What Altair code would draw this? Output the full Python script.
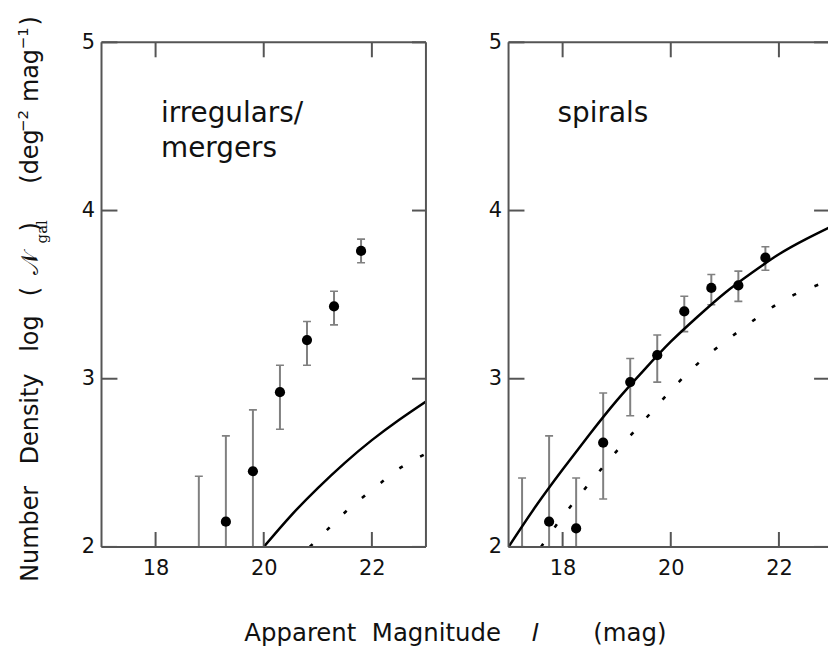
import altair as alt
import pandas as pd

# ---------------- values ----------------
# irregulars / mergers
irr_mag = [18.8, 19.3, 19.8, 20.3, 20.8, 21.3, 21.8]
irr_logn = [None, 2.15, 2.45, 2.92, 3.23, 3.43, 3.76]
irr_err_hi = [2.42, 2.66, 2.815, 3.08, 3.34, 3.52, 3.83]
irr_err_lo = [1.8, 1.8, 1.8, 2.70, 3.08, 3.32, 3.69]
irr_solid_mag = [20.0, 20.5, 21.0, 21.5, 22.0, 22.5, 23.0]
irr_solid_logn = [2.0, 2.185, 2.35, 2.50, 2.635, 2.755, 2.865]
irr_dot_mag = [20.85, 21.2, 21.5, 21.85, 22.2, 22.5, 23.0]
irr_dot_logn = [2.0, 2.11, 2.205, 2.30, 2.39, 2.465, 2.555]

# spirals
sp_mag = [17.25, 17.75, 18.25, 18.75, 19.25, 19.75, 20.25, 20.75, 21.25, 21.75]
sp_logn = [None, 2.15, 2.11, 2.62, 2.98, 3.14, 3.40, 3.54, 3.555, 3.72]
sp_err_hi = [2.41, 2.66, 2.41, 2.915, 3.12, 3.26, 3.49, 3.62, 3.64, 3.785]
sp_err_lo = [1.8, 1.8, 1.8, 2.285, 2.78, 2.98, 3.28, 3.44, 3.46, 3.645]
sp_solid_mag = [17.0, 17.5, 18.0, 18.5, 19.0, 19.5, 20.0, 20.5, 21.0, 21.5, 22.0, 22.5, 23.0]
sp_solid_logn = [2.0, 2.24, 2.46, 2.67, 2.87, 3.05, 3.22, 3.37, 3.51, 3.63, 3.74, 3.83, 3.91]
sp_dot_mag = [17.6, 18.0, 18.5, 19.0, 19.5, 20.0, 20.5, 21.0, 21.5, 22.0, 22.5, 23.0]
sp_dot_logn = [2.0, 2.18, 2.38, 2.57, 2.75, 2.93, 3.09, 3.22, 3.34, 3.45, 3.53, 3.59]

x_tick_values = [18, 20, 22]
y_tick_values = [2, 3, 4, 5]
irr_label = ["irregulars/", "mergers"]
sp_label = ["spirals"]

# ---------------- styling ----------------
W_L, W_R, H = 326, 321, 507
PX_PER_MAG = W_L / 6.0
FRAME = "#555555"
ERR = "#808080"
INK = "#111111"
FONT = "DejaVu Sans"
one = pd.DataFrame({"k": [0]})


def txt(s, x, y, size, font=FONT, style="normal", angle=270):
    return alt.Chart(one).mark_text(
        text=s, angle=angle, align="left", baseline="alphabetic",
        font=font, fontSize=size, fontStyle=style, color=INK
    ).encode(x=alt.value(x), y=alt.value(y))


def rule_px(**enc):
    return alt.Chart(one).mark_rule(color=FRAME, strokeWidth=2).encode(
        **{k: alt.value(v) for k, v in enc.items()})


def panel(mag, logn, hi, lo, s_mag, s_val, d_mag, d_val, labels, label_x,
          width, first):
    xmax = 17 + width / PX_PER_MAG
    xs = alt.Scale(domain=[17, xmax], nice=False, zero=False)
    ys = alt.Scale(domain=[2, 5], nice=False, zero=False)
    xaxis = alt.Axis(values=x_tick_values, format="d", title=None, grid=False,
                     ticks=False, domain=False, labelFont=FONT, labelFontSize=21,
                     labelPadding=11, labelColor=INK)
    yaxis = alt.Axis(values=y_tick_values, format="d", title=None, grid=False,
                     ticks=False, domain=False, labelFont=FONT, labelFontSize=21,
                     labelPadding=7, labelColor=INK)
    pts = pd.DataFrame({"mag": mag, "logn": logn, "hi": hi, "lo": lo})
    bars = alt.Chart(pts).mark_rule(color=ERR, strokeWidth=2, clip=True).encode(
        x=alt.X("mag:Q", scale=xs, axis=xaxis),
        y=alt.Y("lo:Q", scale=ys, axis=yaxis), y2="hi:Q")
    cap_hi = alt.Chart(pts).mark_tick(orient="horizontal", size=8, thickness=1.6,
                                      color=ERR, opacity=1, clip=True).encode(
        x="mag:Q", y="hi:Q")
    cap_lo = alt.Chart(pts).mark_tick(orient="horizontal", size=8, thickness=1.6,
                                      color=ERR, opacity=1, clip=True).encode(
        x="mag:Q", y="lo:Q")
    dots = alt.Chart(pts).transform_filter("isValid(datum.logn)").mark_circle(
        size=105, color="black", opacity=1).encode(x="mag:Q", y="logn:Q")
    solid = alt.Chart(pd.DataFrame({"mag": s_mag, "logn": s_val})).mark_line(
        color="black", strokeWidth=2.5, clip=True, interpolate="natural").encode(
        x="mag:Q", y="logn:Q")
    dotted = alt.Chart(pd.DataFrame({"mag": d_mag, "logn": d_val})).mark_line(
        color="black", strokeWidth=2.6, clip=True, interpolate="natural",
        strokeDash=[4, 20]).encode(x="mag:Q", y="logn:Q")

    xt = pd.DataFrame({"v": x_tick_values})
    yt = pd.DataFrame({"v": y_tick_values})
    tick_b = alt.Chart(xt).mark_rule(color=FRAME, strokeWidth=2).encode(
        x="v:Q", y=alt.value(H), y2=alt.value(H - 15))
    tick_t = alt.Chart(xt).mark_rule(color=FRAME, strokeWidth=2).encode(
        x="v:Q", y=alt.value(0), y2=alt.value(15))
    tick_l = alt.Chart(yt).mark_rule(color=FRAME, strokeWidth=2).encode(
        y="v:Q", x=alt.value(0), x2=alt.value(16))
    tick_r = alt.Chart(yt).mark_rule(color=FRAME, strokeWidth=2).encode(
        y="v:Q", x=alt.value(width - 14), x2=alt.value(width))

    layers = [bars, cap_hi, cap_lo, solid, dotted, dots,
              tick_b, tick_t, tick_l, tick_r,
              rule_px(x=0, y=0, y2=H),
              rule_px(x=0, x2=width, y=0),
              rule_px(x=0, x2=width, y=H)]
    if first:
        layers.append(rule_px(x=width, y=0, y2=H))

    label_y = [4.527, 4.32]
    for i, s in enumerate(labels):
        layers.append(alt.Chart(one).mark_text(
            text=s, align="left", baseline="alphabetic", font=FONT,
            fontSize=28, color=INK).encode(x=alt.datum(label_x), y=alt.datum(label_y[i])))

    # invisible anchors fixing the outer extents of each panel
    left_ext = -101 if first else -30
    layers.append(alt.Chart(one).mark_rule(strokeWidth=0.01, opacity=0).encode(
        x=alt.value(left_ext), x2=alt.value(left_ext + 5), y=alt.value(-40)))

    if first:
        bx, sub, sup = -64, -55, -74
        layers += [
            txt("Number", bx, 542, 24),
            txt("Density", bx, 424, 24),
            txt("log", bx, 311, 24),
            txt("(", bx, 255, 24),
            txt("\U0001D4A9", bx, 234, 24, font="DejaVu Serif"),
            txt("gal", sub, 202, 15, font="DejaVu Serif"),
            txt(")", bx, 190, 24),
            txt("(deg", bx, 142, 24),
            txt("\u22122", sup, 90, 15),
            txt("mag", bx, 60, 24),
            txt("\u22121", sup, 7, 15),
            txt(")", bx, -17, 24),
        ]
    return alt.layer(*layers).properties(width=width, height=H)


left = panel(irr_mag, irr_logn, irr_err_hi, irr_err_lo,
             irr_solid_mag, irr_solid_logn, irr_dot_mag, irr_dot_logn,
             irr_label, 18.1, W_L, True)
right = panel(sp_mag, sp_logn, sp_err_hi, sp_err_lo,
              sp_solid_mag, sp_solid_logn, sp_dot_mag, sp_dot_logn,
              sp_label, 17.906, W_R, False)

nb = "\u00a0"
xtitle = ("Apparent" + nb * 2 + "Magnitude" + nb * 4 + "\U0001D43C" + nb * 7 + "(mag)")

chart = alt.hconcat(left, right, spacing=50).resolve_scale(
    x="independent", y="independent").properties(
    padding=0,
    title=alt.TitleParams(text=xtitle, orient="bottom", anchor="start", dx=245,
                          offset=40, font=FONT, fontSize=24.5, fontWeight="normal",
                          color=INK, baseline="top"),
).configure_view(stroke="transparent")

chart.save("out.html", embed_options={"renderer": "svg", "actions": False})
